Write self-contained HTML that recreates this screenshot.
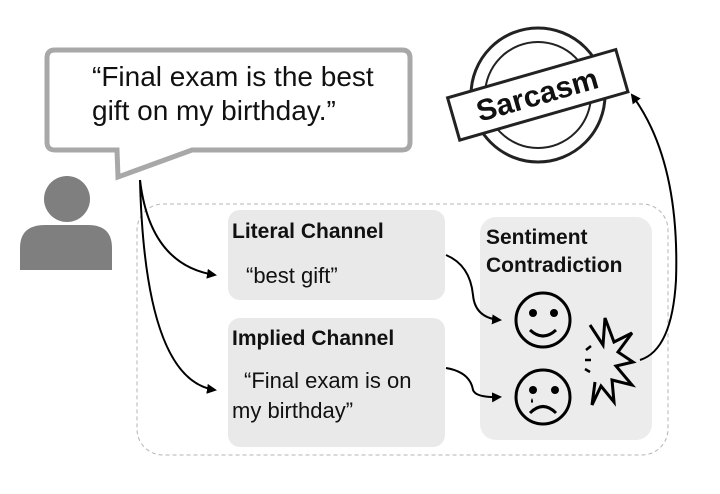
<!DOCTYPE html>
<html><head><style>
body{margin:0;background:#fff;width:720px;height:494px;overflow:hidden;font-family:"Liberation Sans",sans-serif;}
</style></head><body>
<svg width="720" height="494" xmlns="http://www.w3.org/2000/svg" style="position:absolute;left:0;top:0">
<defs><marker id="a" markerWidth="10" markerHeight="10" refX="8" refY="5" orient="auto" markerUnits="userSpaceOnUse"><path d="M0,0 L10,5 L0,10 z" fill="#000"/></marker></defs>
<!-- bubble -->
<path d="M55,50 H402 Q410,50 410,58 V142 Q410,150 402,150 H192 L118,177 L117,150 H55 Q47,150 47,142 V58 Q47,50 55,50 Z" fill="#fff" stroke="#a8a8a8" stroke-width="5"/>
<text x="92" y="86" font-size="28" fill="#111">“Final exam is the best</text>
<text x="92" y="120" font-size="28" fill="#111">gift on my birthday.”</text>
<!-- person -->
<circle cx="67" cy="199" r="23" fill="#7f7f7f"/>
<path d="M20,270 V248 Q20,225 45,225 H88 Q112,225 112,248 V270 Z" fill="#7f7f7f"/>
<!-- container -->
<rect x="137" y="204" width="531" height="251" rx="26" fill="none" stroke="#b5b5b5" stroke-dasharray="4,3"/>
<rect x="228" y="210" width="217" height="90" rx="12" fill="#e9e9e9"/>
<rect x="228" y="318" width="217" height="129" rx="12" fill="#e9e9e9"/>
<rect x="480" y="217" width="172" height="223" rx="16" fill="#ececec"/>
<text x="232" y="238" font-size="21" font-weight="bold" fill="#111">Literal Channel</text>
<text x="246" y="283" font-size="22" fill="#111">“best gift”</text>
<text x="232" y="345" font-size="21" font-weight="bold" fill="#111">Implied Channel</text>
<text x="244" y="388" font-size="22" fill="#111">“Final exam is on</text>
<text x="232" y="418" font-size="22" fill="#111">my birthday”</text>
<text x="486" y="244" font-size="21" font-weight="bold" fill="#111">Sentiment</text>
<text x="486" y="272" font-size="21" font-weight="bold" fill="#111">Contradiction</text>
<!-- arrows -->
<path d="M140,180 Q150,265 215,275" fill="none" stroke="#000" stroke-width="2" marker-end="url(#a)"/>
<path d="M140,180 Q145,380 215,390" fill="none" stroke="#000" stroke-width="2" marker-end="url(#a)"/>
<path d="M446,255 Q470,265 473,295 Q475,318 500,320" fill="none" stroke="#000" stroke-width="2" marker-end="url(#a)"/>
<path d="M446,368 Q470,372 473,390 Q476,398 500,397" fill="none" stroke="#000" stroke-width="2" marker-end="url(#a)"/>
<path d="M640,360 Q672,350 676,280 Q680,160 632,95" fill="none" stroke="#000" stroke-width="2" marker-end="url(#a)"/>
<!-- faces -->
<circle cx="543" cy="320" r="27" fill="none" stroke="#000" stroke-width="3"/>
<circle cx="533" cy="313" r="4"/><circle cx="554" cy="313" r="4"/>
<path d="M530,330 Q543,342 556,330" fill="none" stroke="#000" stroke-width="3"/>
<circle cx="543" cy="397" r="27" fill="none" stroke="#000" stroke-width="3"/>
<circle cx="533" cy="390" r="4"/><circle cx="555" cy="390" r="4"/>
<path d="M530,413 Q543,400 556,413" fill="none" stroke="#000" stroke-width="3"/>
<path d="M532,398 q-2,4 0,5 q2,-1 0,-5z" fill="#000"/>
<!-- burst -->
<path d="M590,325 L603,345 L605,318 L614,342 L632,333 L618,352 L633,362 L616,366 L632,385 L612,380 L614,402 L601,386 L592,405 L595,382" fill="none" stroke="#000" stroke-width="3"/>
<path d="M586,350 l5,-4 M585,360 h6 M585,369 l5,3" stroke="#000" stroke-width="2.5"/>
<!-- stamp -->
<circle cx="538" cy="95" r="67" fill="none" stroke="#222" stroke-width="3"/>
<circle cx="538" cy="95" r="53" fill="none" stroke="#222" stroke-width="2"/>
<g transform="rotate(-16 537 94)">
<rect x="450" y="73" width="175" height="44" fill="#fff" stroke="#222" stroke-width="3"/>
<text x="537" y="105" font-size="30" font-weight="bold" text-anchor="middle" fill="#111">Sarcasm</text>
</g>
</svg>
</body></html>
